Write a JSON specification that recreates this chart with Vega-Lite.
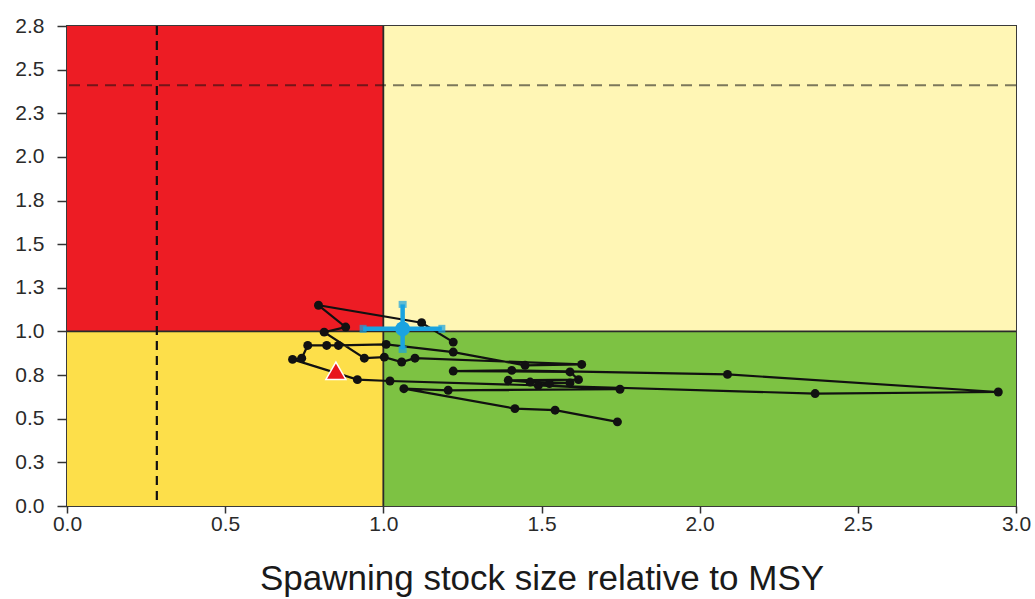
{
  "$schema": "https://vega.github.io/schema/vega-lite/v6.json",
  "width": 949,
  "height": 480,
  "autosize": "none",
  "padding": {"left": 67, "top": 26, "right": 19, "bottom": 93},
  "background": "white",
  "config": {
    "view": {"stroke": "#3a3a3a", "strokeWidth": 2},
    "font": "Liberation Sans",
    "axis": {"grid": false, "domain": false, "tickColor": "#333", "tickSize": 10, "tickWidth": 1.5, "labelColor": "#2a2a2a", "labelFontSize": 21, "labelFont": "Liberation Sans", "labelFlush": false}
  },
  "datasets": {
    "zones": [
      {"x1": 0, "x2": 1, "y1": 1, "y2": 2.75, "c": "#ED1C24"},
      {"x1": 1, "x2": 3, "y1": 1, "y2": 2.75, "c": "#FFF6B5"},
      {"x1": 0, "x2": 1, "y1": 0, "y2": 1, "c": "#FDDF4A"},
      {"x1": 1, "x2": 3, "y1": 0, "y2": 1, "c": "#7DC243"}
    ],
    "traj": [
      {"t": 1, "x": 1.74, "y": 0.482},
      {"t": 2, "x": 1.543, "y": 0.549},
      {"t": 3, "x": 1.416, "y": 0.558},
      {"t": 4, "x": 1.065, "y": 0.672},
      {"t": 5, "x": 1.205, "y": 0.663},
      {"t": 6, "x": 1.748, "y": 0.669},
      {"t": 7, "x": 1.49, "y": 0.691},
      {"t": 8, "x": 1.525, "y": 0.701},
      {"t": 9, "x": 1.59, "y": 0.705},
      {"t": 10, "x": 1.464, "y": 0.71},
      {"t": 11, "x": 1.395, "y": 0.72},
      {"t": 12, "x": 1.617, "y": 0.724},
      {"t": 13, "x": 1.59, "y": 0.768},
      {"t": 14, "x": 1.221, "y": 0.773},
      {"t": 15, "x": 1.406, "y": 0.777},
      {"t": 16, "x": 2.088, "y": 0.754},
      {"t": 17, "x": 2.944, "y": 0.653},
      {"t": 18, "x": 2.365, "y": 0.644},
      {"t": 19, "x": 1.021, "y": 0.716},
      {"t": 20, "x": 0.918, "y": 0.724},
      {"t": 21, "x": 0.713, "y": 0.84},
      {"t": 22, "x": 0.742, "y": 0.847},
      {"t": 23, "x": 0.761, "y": 0.92},
      {"t": 24, "x": 0.821, "y": 0.92},
      {"t": 25, "x": 0.858, "y": 0.92},
      {"t": 26, "x": 1.009, "y": 0.926},
      {"t": 27, "x": 1.221, "y": 0.882},
      {"t": 28, "x": 1.448, "y": 0.806},
      {"t": 29, "x": 1.627, "y": 0.811},
      {"t": 30, "x": 1.10, "y": 0.847},
      {"t": 31, "x": 1.058, "y": 0.825},
      {"t": 32, "x": 1.003, "y": 0.853},
      {"t": 33, "x": 0.94, "y": 0.847},
      {"t": 34, "x": 0.813, "y": 0.996},
      {"t": 35, "x": 0.881, "y": 1.025},
      {"t": 36, "x": 0.795, "y": 1.15},
      {"t": 37, "x": 1.121, "y": 1.05},
      {"t": 38, "x": 1.221, "y": 0.939}
    ],
    "est": [
      {"x": 1.061, "y": 1.015, "xlo": 0.936, "xhi": 1.185, "ylo": 0.897, "yhi": 1.155}
    ],
    "tri": [{"x": 0.85, "y": 0.775}]
  },
  "layer": [
    {
      "data": {"name": "zones"},
      "mark": {"type": "rect"},
      "encoding": {
        "x": {"field": "x1", "type": "quantitative", "scale": {"domain": [0, 3], "nice": false, "zero": false},
              "axis": {"values": [0, 0.5, 1, 1.5, 2, 2.5, 3], "format": ".1f", "title": "Spawning stock size relative to MSY", "titleFontSize": 35, "titleFontWeight": "normal", "titleColor": "#1a1a1a", "titlePadding": 27, "tickSize": 7, "labelPadding": 0, "titleFont": "Liberation Sans"}},
        "x2": {"field": "x2"},
        "y": {"field": "y1", "type": "quantitative", "scale": {"domain": [0, 2.75], "nice": false, "zero": false},
              "axis": {"values": [0, 0.25, 0.5, 0.75, 1, 1.25, 1.5, 1.75, 2, 2.25, 2.5, 2.75], "format": ".1f", "title": null, "labelPadding": 13}},
        "y2": {"field": "y2"},
        "color": {"field": "c", "type": "nominal", "scale": null}
      }
    },
    {
      "data": {"values": [{"x": 1, "y": 0, "y2": 2.75}]},
      "mark": {"type": "rule", "color": "#2a2a2a", "strokeWidth": 1.8},
      "encoding": {"x": {"field": "x", "type": "quantitative"}, "y": {"field": "y", "type": "quantitative"}, "y2": {"field": "y2"}}
    },
    {
      "data": {"values": [{"y": 1, "x": 0, "x2": 3}]},
      "mark": {"type": "rule", "color": "#2a2a2a", "strokeWidth": 1.8},
      "encoding": {"y": {"field": "y", "type": "quantitative"}, "x": {"field": "x", "type": "quantitative"}, "x2": {"field": "x2"}}
    },
    {
      "data": {"values": [{"x": 0.284}]},
      "mark": {"type": "rule", "color": "#111", "strokeWidth": 2.2, "strokeDash": [9, 6]},
      "encoding": {"x": {"field": "x", "type": "quantitative"}}
    },
    {
      "data": {"values": [{"y": 2.41}]},
      "mark": {"type": "rule", "color": "#111", "opacity": 0.55, "strokeWidth": 2, "strokeDash": [11, 7]},
      "encoding": {"y": {"field": "y", "type": "quantitative"}}
    },
    {
      "data": {"name": "traj"},
      "mark": {"type": "line", "color": "#111", "strokeWidth": 2.2},
      "encoding": {"x": {"field": "x", "type": "quantitative"}, "y": {"field": "y", "type": "quantitative"}, "order": {"field": "t", "type": "quantitative"}}
    },
    {
      "data": {"name": "traj"},
      "mark": {"type": "point", "filled": true, "color": "#111", "opacity": 1, "size": 80},
      "encoding": {"x": {"field": "x", "type": "quantitative"}, "y": {"field": "y", "type": "quantitative"}}
    },
    {
      "data": {"name": "est"},
      "mark": {"type": "rule", "color": "#1AA3E0", "strokeWidth": 4.5},
      "encoding": {"x": {"field": "xlo", "type": "quantitative"}, "x2": {"field": "xhi"}, "y": {"field": "y", "type": "quantitative"}}
    },
    {
      "data": {"name": "est"},
      "mark": {"type": "rule", "color": "#1AA3E0", "strokeWidth": 4.5},
      "encoding": {"y": {"field": "ylo", "type": "quantitative"}, "y2": {"field": "yhi"}, "x": {"field": "x", "type": "quantitative"}}
    },
    {
      "data": {"name": "est"},
      "mark": {"type": "tick", "color": "#1AA3E0", "thickness": 7, "size": 8, "orient": "horizontal"},
      "encoding": {"y": {"field": "yhi", "type": "quantitative"}, "x": {"field": "x", "type": "quantitative"}}
    },
    {
      "data": {"name": "est"},
      "mark": {"type": "tick", "color": "#1AA3E0", "thickness": 7, "size": 8, "orient": "horizontal"},
      "encoding": {"y": {"field": "ylo", "type": "quantitative"}, "x": {"field": "x", "type": "quantitative"}}
    },
    {
      "data": {"name": "est"},
      "mark": {"type": "tick", "color": "#1AA3E0", "thickness": 7, "size": 8, "orient": "vertical"},
      "encoding": {"x": {"field": "xlo", "type": "quantitative"}, "y": {"field": "y", "type": "quantitative"}}
    },
    {
      "data": {"name": "est"},
      "mark": {"type": "tick", "color": "#1AA3E0", "thickness": 7, "size": 8, "orient": "vertical"},
      "encoding": {"x": {"field": "xhi", "type": "quantitative"}, "y": {"field": "y", "type": "quantitative"}}
    },
    {
      "data": {"name": "est"},
      "mark": {"type": "point", "filled": true, "color": "#1AA3E0", "opacity": 1, "size": 220},
      "encoding": {"x": {"field": "x", "type": "quantitative"}, "y": {"field": "y", "type": "quantitative"}}
    },
    {
      "data": {"name": "tri"},
      "mark": {"type": "point", "shape": "triangle-up", "filled": true, "fill": "#E8141C", "stroke": "white", "strokeWidth": 1.5, "opacity": 1, "size": 400},
      "encoding": {"x": {"field": "x", "type": "quantitative"}, "y": {"field": "y", "type": "quantitative"}}
    }
  ]
}
